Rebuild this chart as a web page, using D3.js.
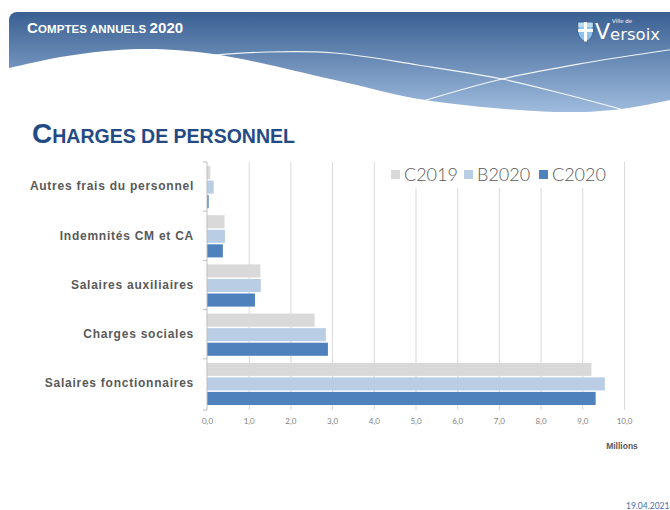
<!DOCTYPE html>
<html>
<head>
<meta charset="utf-8">
<script src="https://cdn.jsdelivr.net/npm/d3@7"></script>
<style>
  body { margin: 0; background: #fff; }
  svg { display: block; }
</style>
</head>
<body>
<div id="chart"></div>
<script>
'use strict';

// data (millions CHF)
const categories = ['Autres frais du personnel', 'Indemnités CM et CA', 'Salaires auxiliaires',
                    'Charges sociales', 'Salaires fonctionnaires'];
const series = ['C2019', 'B2020', 'C2020'];
const c2019 = [0.08, 0.42, 1.28, 2.58, 9.22];
const b2020 = [0.16, 0.43, 1.29, 2.85, 9.54];
const c2020 = [0.04, 0.38, 1.15, 2.90, 9.32];
const xTicks = [0, 1, 2, 3, 4, 5, 6, 7, 8, 9, 10];

const values = {'C2019': c2019, 'B2020': b2020, 'C2020': c2020};
const colors = {'C2019': '#d9d9d9', 'B2020': '#b9cde5', 'C2020': '#4f81bd'};

const W = 670, H = 510;
const svg = d3.select('#chart').append('svg')
              .attr('width', W)
              .attr('height', H);

// ---- header banner ----
const defs = svg.append('defs');
const grad = defs.append('linearGradient')
                 .attr('id', 'bannerGrad')
                 .attr('x1', 0).attr('y1', 0).attr('x2', 0).attr('y2', 1);
grad.append('stop').attr('offset', '0%').attr('stop-color', '#395f92');
grad.append('stop').attr('offset', '100%').attr('stop-color', '#a3bfe0');

svg.append('rect')
   .attr('x', 9).attr('y', 12)
   .attr('width', 680).attr('height', 104)
   .attr('rx', 8)
   .attr('fill', 'url(#bannerGrad)');

const curve = d3.line().curve(d3.curveCatmullRom.alpha(0.5));
const wavePts = [[-5, 71], [9, 68], [67, 56], [140, 49], [213, 54], [335, 80],
                 [425, 100], [560, 112], [622, 109], [675, 99]];
svg.append('path')
   .attr('d', curve(wavePts) + 'L675,130L-5,130Z')
   .attr('fill', '#fff');

const line1 = [[205, 56], [267, 52], [335, 53], [418, 65], [502, 79], [568, 95], [624, 110]];
const line2 = [[423, 101], [502, 79], [585, 63], [675, 49]];
[line1, line2].forEach(pts => {
  svg.append('path')
     .attr('d', curve(pts))
     .attr('fill', 'none')
     .attr('stroke', '#fff')
     .attr('stroke-width', 1.2)
     .attr('opacity', 0.9);
});

const head = svg.append('text')
                .attr('x', 27).attr('y', 33)
                .attr('fill', '#fff')
                .attr('font-family', 'Liberation Sans, Arial, sans-serif')
                .attr('font-weight', 'bold')
                .attr('letter-spacing', '0.1');
head.append('tspan').attr('font-size', 15).text('C');
head.append('tspan').attr('font-size', 11.5).text('OMPTES ANNUELS ');
head.append('tspan').attr('font-size', 15).text('2020');

// logo
const logo = svg.append('g').attr('transform', 'translate(578,22)');
logo.append('path')
    .attr('d', 'M0,0H15V9C15,15 11,18 7.5,20C4,18 0,15 0,9Z')
    .attr('fill', '#8fc3ea')
    .attr('stroke', '#2b5384')
    .attr('stroke-width', 0.6);
logo.append('rect').attr('x', 6).attr('y', 0).attr('width', 3).attr('height', 19.5).attr('fill', '#fff');
logo.append('rect').attr('x', 0).attr('y', 7).attr('width', 15).attr('height', 3).attr('fill', '#fff');
[2, 4].forEach(yy => {
  logo.append('line').attr('x1', 0).attr('x2', 15).attr('y1', yy).attr('y2', yy)
      .attr('stroke', '#fff').attr('stroke-width', 0.8);
});
svg.append('text')
   .attr('x', 595).attr('y', 39)
   .attr('fill', '#fff')
   .attr('font-family', 'DejaVu Sans, sans-serif')
   .attr('font-size', 22)
   .text('V');
svg.append('text')
   .attr('x', 610).attr('y', 40)
   .attr('fill', '#fff')
   .attr('font-family', 'DejaVu Sans, sans-serif')
   .attr('font-size', 16.5)
   .text('ersoix');
svg.append('text')
   .attr('x', 612).attr('y', 23)
   .attr('fill', '#fff')
   .attr('font-family', 'DejaVu Sans, sans-serif')
   .attr('font-size', 5.5)
   .text('Ville de');

// ---- slide title ----
const title = svg.append('text')
                 .attr('x', 32).attr('y', 143)
                 .attr('fill', '#244a85')
                 .attr('font-family', 'Liberation Sans, Arial, sans-serif')
                 .attr('font-weight', 'bold')
                 .attr('letter-spacing', '0');
title.append('tspan').attr('font-size', 28).text('C');
title.append('tspan').attr('font-size', 19.5).text('HARGES DE PERSONNEL');

// ---- chart ----
const plot = {left: 207, top: 162, right: 624, bottom: 408};

const x = d3.scaleLinear()
            .domain([0, 10])
            .range([plot.left, plot.right]);

const y = d3.scaleBand()
            .domain(categories)
            .range([plot.top, plot.bottom])
            .paddingInner(0)
            .paddingOuter(0);

const yInner = d3.scaleBand()
                 .domain(series)
                 .range([4, y.bandwidth() - 3])
                 .paddingInner(0.1);

const locale = d3.formatLocale({decimal: ',', thousands: '\u00a0', grouping: [3], currency: ['', ' CHF']});
const fmt = locale.format('.1f');

// gridlines + tick labels
const xAxis = svg.append('g')
                 .attr('transform', `translate(0,${plot.bottom + 2})`)
                 .call(d3.axisBottom(x)
                         .tickValues(xTicks)
                         .tickSize(-(plot.bottom - plot.top + 2))
                         .tickPadding(8)
                         .tickFormat(fmt));
xAxis.select('.domain').remove();
xAxis.selectAll('.tick line')
     .attr('stroke', '#d9d9d9')
     .attr('stroke-width', 1);
xAxis.selectAll('.tick text')
     .attr('fill', '#7f7f7f')
     .attr('font-family', 'Lato, Open Sans, sans-serif')
     .attr('font-size', 8);
xAxis.selectAll('.tick').filter(d => d === 0).select('line').remove();

// legend (white box masks the gridlines beneath it)
const legendX = [391, 464, 539];
svg.append('rect')
   .attr('x', 385).attr('y', plot.top).attr('width', 225).attr('height', 26)
   .attr('fill', '#fff');
const legend = svg.selectAll('.legend')
                  .data(series)
                  .enter()
                  .append('g')
                    .attr('class', 'legend')
                    .attr('transform', (d, i) => `translate(${legendX[i]},170)`);
legend.append('rect')
      .attr('width', 9).attr('height', 9)
      .attr('fill', d => colors[d]);
legend.append('text')
      .attr('x', 13).attr('y', 11)
      .attr('fill', '#595959')
      .attr('font-family', 'Lato, Open Sans, sans-serif')
      .attr('font-weight', 300)
      .attr('font-size', 18)
      .text(d => d);

// bars
const groups = svg.selectAll('.cat')
                  .data(categories)
                  .enter()
                  .append('g')
                    .attr('class', 'cat')
                    .attr('transform', d => `translate(0,${y(d)})`);
groups.selectAll('rect')
      .data((d, i) => series.map(s => ({series: s, value: values[s][i]})))
      .enter()
      .append('rect')
        .attr('x', x(0))
        .attr('y', d => yInner(d.series))
        .attr('width', d => x(d.value) - x(0))
        .attr('height', yInner.bandwidth())
        .attr('fill', d => colors[d.series]);

// vertical category axis
const yAxis = svg.append('g')
                 .attr('transform', `translate(${plot.left},0)`)
                 .call(d3.axisLeft(y).tickSize(0).tickPadding(13));
yAxis.select('.domain')
     .attr('stroke', '#bfbfbf')
     .attr('d', `M0,${plot.top}V${plot.bottom + 2}`);
yAxis.selectAll('.tick text')
     .attr('fill', '#595959')
     .attr('font-family', 'Liberation Sans, Arial, sans-serif')
     .attr('font-weight', 'bold')
     .attr('font-size', 12)
     .attr('letter-spacing', 0.75);
svg.append('g')
   .selectAll('line')
   .data(d3.range(categories.length + 1))
   .enter()
   .append('line')
     .attr('x1', plot.left - 4).attr('x2', plot.left)
     .attr('y1', i => plot.top + i * y.step() + (i === categories.length ? 2 : 0))
     .attr('y2', i => plot.top + i * y.step() + (i === categories.length ? 2 : 0))
     .attr('stroke', '#bfbfbf');

// units + date
svg.append('text')
   .attr('x', 622).attr('y', 449)
   .attr('text-anchor', 'middle')
   .attr('fill', '#595959')
   .attr('font-family', 'Liberation Sans, Arial, sans-serif')
   .attr('font-weight', 'bold')
   .attr('font-size', 8.5)
   .text('Millions');
svg.append('text')
   .attr('x', 626).attr('y', 509)
   .attr('fill', '#4a6fa8')
   .attr('font-family', 'Lato, Open Sans, sans-serif')
   .attr('font-size', 8.5)
   .text('19.04.2021');
</script>
</body>
</html>
